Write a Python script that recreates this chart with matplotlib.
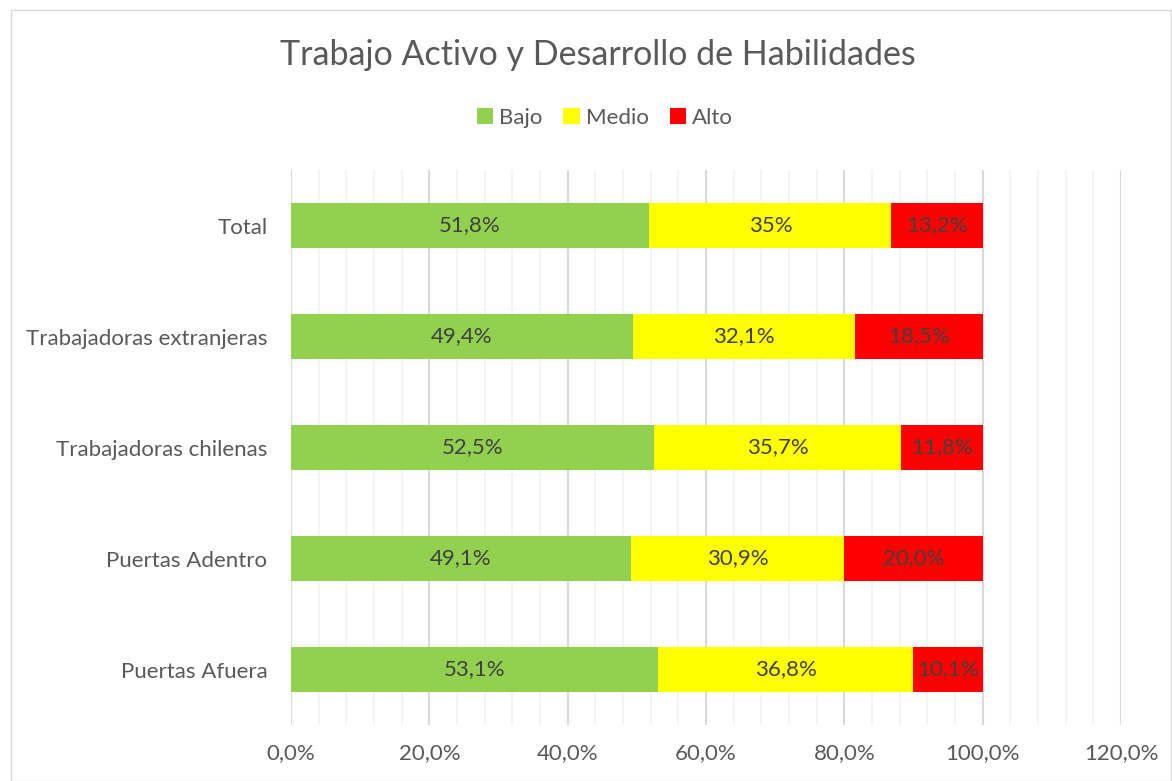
import matplotlib
matplotlib.use("Agg")
import matplotlib.pyplot as plt
import numpy as np
from matplotlib.ticker import MultipleLocator, FuncFormatter
from matplotlib.patches import Rectangle

categories = ["Total", "Trabajadoras extranjeras", "Trabajadoras chilenas", "Puertas Adentro", "Puertas Afuera"]
bajo = [51.8, 49.4, 52.5, 49.1, 53.1]
medio = [35.0, 32.1, 35.7, 30.9, 36.8]
alto = [13.2, 18.5, 11.8, 20.0, 10.1]
labels_bajo = ["51,8%", "49,4%", "52,5%", "49,1%", "53,1%"]
labels_medio = ["35%", "32,1%", "35,7%", "30,9%", "36,8%"]
labels_alto = ["13,2%", "18,5%", "11,8%", "20,0%", "10,1%"]
series_names = ["Bajo", "Medio", "Alto"]
colors = ["#92D050", "#FFFF00", "#FF0000"]

plt.rcParams['font.family'] = ['Lato', 'DejaVu Sans']

fig = plt.figure(figsize=(11.72, 7.81), dpi=100)
ax = fig.add_axes([0.2483, 0.0717, 0.9565 - 0.2483, 0.7823 - 0.0717])

y = np.arange(len(categories))
left = np.zeros(len(categories))
for vals, labs, name, col in zip([bajo, medio, alto], [labels_bajo, labels_medio, labels_alto], series_names, colors):
    v = np.array(vals)
    ax.barh(y, v, left=left, height=0.4, color=col, label=name, zorder=3)
    for yi, l, w, t in zip(y, left, v, labs):
        ax.text(l + w / 2, yi, t, ha='center', va='center', fontsize=16, color='#404040', zorder=4)
    left = left + v

ax.set_xlim(0, 120)
ax.set_ylim(len(categories) - 0.5, -0.5)
ax.set_yticks(y)
ax.set_yticklabels(categories, fontsize=16, color='#595959')
ax.xaxis.set_major_locator(MultipleLocator(20))
ax.xaxis.set_minor_locator(MultipleLocator(4))
ax.xaxis.set_major_formatter(FuncFormatter(lambda v, p: f"{v:.1f}%".replace('.', ',')))
ax.tick_params(axis='x', labelsize=16, labelcolor='#595959', length=0, pad=13, which='both')
ax.tick_params(axis='y', length=0, pad=17)
ax.grid(axis='x', which='major', color='#D9D9D9', linewidth=1.5, zorder=0)
ax.grid(axis='x', which='minor', color='#F2F2F2', linewidth=1.2, zorder=0)
for s in ax.spines.values():
    s.set_visible(False)

fig.text(0.51, 0.929, "Trabajo Activo y Desarrollo de Habilidades", ha='center', va='center',
         fontsize=24.5, color='#595959')
fig.legend(loc='center', bbox_to_anchor=(0.516, 0.849), ncol=3, frameon=False, fontsize=16,
           handlelength=0.75, handleheight=0.75, handletextpad=0.25, columnspacing=0.95,
           labelcolor='#595959')

fig.patches.append(Rectangle((11 / 1172, 0), 1 - 11 / 1172 - 0.001, 1 - 10 / 781,
                             transform=fig.transFigure, fill=False, edgecolor='#D9D9D9', linewidth=1))

fig.savefig("out.png", dpi=100)
